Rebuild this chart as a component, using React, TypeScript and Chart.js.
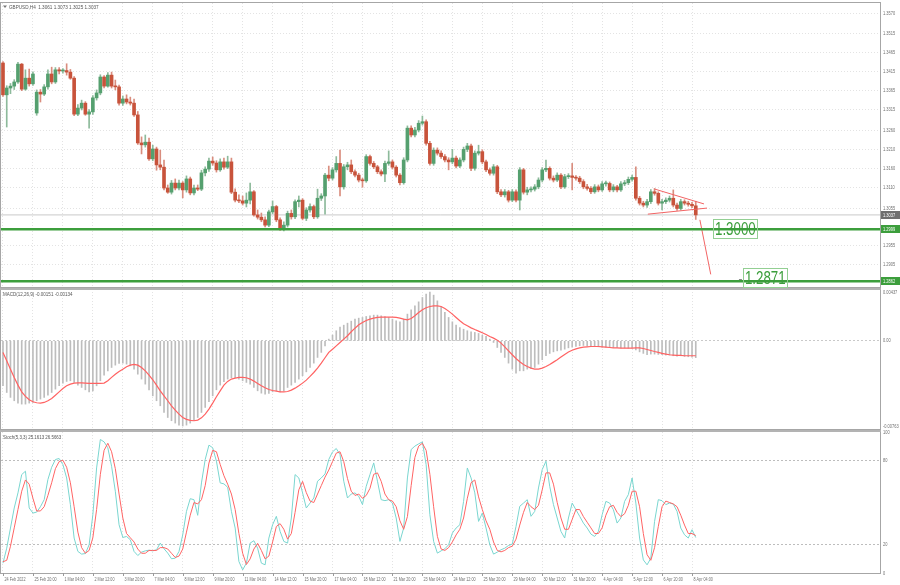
import React, { useEffect, useRef } from "react";
import { Chart, registerables } from "chart.js";
Chart.register(...registerables);

// ---------- DATA ----------
const symbolTitle = "GBPUSD,H4";

const opens = [
  1.3438,1.3354,1.3372,1.3377,1.3388,1.3435,1.3369,1.3398,1.3383,1.3306,
  1.3361,1.3356,1.3375,1.3409,1.3388,1.3420,1.3417,1.3418,1.3414,1.3398,
  1.3303,1.3319,1.3332,1.3303,1.3309,1.3346,1.3359,1.3401,1.3377,1.3406,
  1.3377,1.3375,1.3332,1.3343,1.3335,1.3332,1.3301,1.3227,1.3222,1.3229,
  1.3185,1.3211,1.3169,1.3163,1.3108,1.3097,1.3121,1.3108,1.3121,1.3103,
  1.3132,1.3095,1.3108,1.3105,1.3148,1.3158,1.3179,1.3174,1.3156,1.3177,
  1.3163,1.3177,1.3097,1.3076,1.3074,1.3068,1.3076,1.3098,1.3037,1.3031,
  1.3024,1.3010,1.3045,1.3059,1.3024,1.2999,1.3010,1.3041,1.3032,1.3072,
  1.3076,1.3028,1.3050,1.3059,1.3032,1.3081,1.3087,1.3142,1.3134,1.3156,
  1.3173,1.3111,1.3164,1.3169,1.3151,1.3142,1.3129,1.3127,1.3191,1.3173,
  1.3164,1.3151,1.3145,1.3173,1.3177,1.3163,1.3142,1.3122,1.3182,1.3266,
  1.3248,1.3261,1.3279,1.3283,1.3226,1.3173,1.3208,1.3200,1.3191,1.3182,
  1.3177,1.3187,1.3166,1.3182,1.3210,1.3219,1.3160,1.3200,1.3204,1.3177,
  1.3156,1.3147,1.3164,1.3098,1.3090,1.3098,1.3076,1.3098,1.3076,1.3156,
  1.3097,1.3103,1.3105,1.3111,1.3129,1.3156,1.3160,1.3134,1.3129,1.3142,
  1.3111,1.3138,1.3140,1.3136,1.3134,1.3125,1.3111,1.3107,1.3098,1.3111,
  1.3103,1.3119,1.3120,1.3103,1.3111,1.3103,1.3119,1.3122,1.3131,1.3136,
  1.3081,1.3068,1.3063,1.3072,1.3098,1.3094,1.3068,1.3072,1.3076,1.3081,
  1.3063,1.3054,1.3072,1.3068,1.3065,1.3061,
];
const highs = [
  1.3442,1.3378,1.3384,1.3394,1.3440,1.3437,1.3420,1.3422,1.3415,1.3367,
  1.3368,1.3381,1.3420,1.3427,1.3426,1.3426,1.3423,1.3436,1.3421,1.3402,
  1.3328,1.3340,1.3336,1.3315,1.3352,1.3367,1.3407,1.3405,1.3413,1.3414,
  1.3393,1.3380,1.3351,1.3354,1.3348,1.3343,1.3310,1.3243,1.3248,1.3240,
  1.3221,1.3216,1.3208,1.3182,1.3116,1.3128,1.3132,1.3129,1.3125,1.3140,
  1.3137,1.3116,1.3116,1.3155,1.3164,1.3187,1.3190,1.3180,1.3185,1.3187,
  1.3192,1.3187,1.3106,1.3090,1.3087,1.3095,1.3121,1.3101,1.3050,1.3042,
  1.3032,1.3050,1.3074,1.3062,1.3029,1.3019,1.3047,1.3050,1.3077,1.3087,
  1.3080,1.3056,1.3066,1.3063,1.3105,1.3093,1.3147,1.3166,1.3162,1.3191,
  1.3208,1.3170,1.3176,1.3182,1.3156,1.3147,1.3134,1.3196,1.3195,1.3178,
  1.3168,1.3156,1.3179,1.3206,1.3182,1.3167,1.3146,1.3188,1.3272,1.3272,
  1.3268,1.3286,1.3298,1.3288,1.3231,1.3214,1.3214,1.3206,1.3196,1.3188,
  1.3210,1.3192,1.3188,1.3216,1.3226,1.3224,1.3206,1.3221,1.3209,1.3182,
  1.3161,1.3170,1.3168,1.3104,1.3104,1.3102,1.3104,1.3103,1.3162,1.3160,
  1.3110,1.3111,1.3117,1.3135,1.3162,1.3182,1.3164,1.3140,1.3148,1.3146,
  1.3144,1.3146,1.3173,1.3141,1.3139,1.3130,1.3118,1.3112,1.3117,1.3116,
  1.3125,1.3126,1.3124,1.3117,1.3115,1.3125,1.3128,1.3137,1.3142,1.3164,
  1.3086,1.3073,1.3078,1.3104,1.3107,1.3098,1.3078,1.3082,1.3087,1.3103,
  1.3068,1.3078,1.3077,1.3073,1.3070,1.3073,
];
const lows = [
  1.3350,1.3269,1.3357,1.3368,1.3384,1.3365,1.3366,1.3377,1.3379,1.3300,
  1.3335,1.3352,1.3369,1.3383,1.3384,1.3409,1.3411,1.3406,1.3395,1.3299,
  1.3299,1.3314,1.3300,1.3266,1.3302,1.3340,1.3354,1.3372,1.3374,1.3372,
  1.3367,1.3327,1.3326,1.3330,1.3327,1.3297,1.3223,1.3198,1.3216,1.3181,
  1.3180,1.3155,1.3156,1.3103,1.3094,1.3092,1.3103,1.3103,1.3082,1.3097,
  1.3090,1.3090,1.3101,1.3101,1.3140,1.3152,1.3168,1.3150,1.3152,1.3158,
  1.3159,1.3093,1.3071,1.3069,1.3063,1.3058,1.3066,1.3034,1.3026,1.3019,
  1.3005,1.3006,1.3040,1.3019,1.2996,1.2995,1.3005,1.3026,1.3027,1.3058,
  1.3024,1.3022,1.3044,1.3027,1.3028,1.3075,1.3039,1.3127,1.3129,1.3150,
  1.3087,1.3105,1.3156,1.3146,1.3137,1.3124,1.3110,1.3123,1.3168,1.3159,
  1.3146,1.3140,1.3125,1.3168,1.3158,1.3137,1.3116,1.3118,1.3177,1.3243,
  1.3243,1.3256,1.3274,1.3221,1.3168,1.3168,1.3195,1.3186,1.3177,1.3156,
  1.3172,1.3161,1.3162,1.3177,1.3204,1.3154,1.3155,1.3195,1.3172,1.3151,
  1.3142,1.3142,1.3093,1.3085,1.3084,1.3071,1.3072,1.3071,1.3050,1.3092,
  1.3090,1.3098,1.3100,1.3106,1.3124,1.3151,1.3129,1.3124,1.3125,1.3106,
  1.3107,1.3133,1.3103,1.3129,1.3120,1.3106,1.3102,1.3093,1.3094,1.3098,
  1.3099,1.3113,1.3098,1.3098,1.3098,1.3099,1.3114,1.3117,1.3126,1.3076,
  1.3063,1.3058,1.3057,1.3067,1.3089,1.3063,1.3050,1.3067,1.3071,1.3058,
  1.3049,1.3050,1.3063,1.3060,1.3056,1.3025,
];
const closes = [
  1.3354,1.3372,1.3377,1.3388,1.3435,1.3369,1.3398,1.3383,1.3409,1.3361,
  1.3356,1.3375,1.3409,1.3388,1.3420,1.3417,1.3418,1.3414,1.3398,1.3303,
  1.3319,1.3332,1.3303,1.3309,1.3346,1.3359,1.3401,1.3377,1.3406,1.3377,
  1.3375,1.3332,1.3343,1.3335,1.3332,1.3301,1.3227,1.3222,1.3229,1.3185,
  1.3211,1.3169,1.3163,1.3108,1.3097,1.3121,1.3108,1.3121,1.3103,1.3132,
  1.3095,1.3108,1.3105,1.3148,1.3158,1.3179,1.3174,1.3156,1.3177,1.3163,
  1.3177,1.3097,1.3076,1.3074,1.3068,1.3076,1.3098,1.3037,1.3031,1.3024,
  1.3010,1.3045,1.3059,1.3024,1.2999,1.3010,1.3041,1.3032,1.3072,1.3076,
  1.3028,1.3050,1.3059,1.3032,1.3081,1.3087,1.3142,1.3134,1.3156,1.3173,
  1.3111,1.3164,1.3169,1.3151,1.3142,1.3129,1.3127,1.3191,1.3173,1.3164,
  1.3151,1.3145,1.3173,1.3177,1.3163,1.3142,1.3122,1.3182,1.3266,1.3248,
  1.3261,1.3279,1.3283,1.3226,1.3173,1.3208,1.3200,1.3191,1.3182,1.3177,
  1.3187,1.3166,1.3182,1.3210,1.3219,1.3160,1.3200,1.3204,1.3177,1.3156,
  1.3147,1.3164,1.3098,1.3090,1.3098,1.3076,1.3098,1.3076,1.3156,1.3097,
  1.3103,1.3105,1.3111,1.3129,1.3156,1.3160,1.3134,1.3129,1.3142,1.3111,
  1.3138,1.3140,1.3136,1.3134,1.3125,1.3111,1.3107,1.3098,1.3111,1.3103,
  1.3119,1.3120,1.3103,1.3111,1.3103,1.3119,1.3122,1.3131,1.3136,1.3081,
  1.3068,1.3063,1.3072,1.3098,1.3094,1.3068,1.3072,1.3076,1.3081,1.3063,
  1.3054,1.3072,1.3068,1.3065,1.3061,1.3037,
];

const macdMain = [
  -0.00403,-0.00463,-0.00507,-0.00537,-0.00558,-0.00567,-0.00567,-0.00558,-0.00552,-0.00537,
  -0.00522,-0.00507,-0.00487,-0.00463,-0.00433,-0.00403,-0.00379,-0.00364,-0.00358,-0.00373,
  -0.00397,-0.00418,-0.00439,-0.00457,-0.00448,-0.00403,-0.00358,-0.00307,-0.00269,-0.00239,
  -0.00218,-0.00203,-0.00200,-0.00209,-0.00224,-0.00254,-0.00299,-0.00343,-0.00388,-0.00439,
  -0.00493,-0.00537,-0.00582,-0.00642,-0.00687,-0.00716,-0.00737,-0.00755,-0.00763,-0.00755,
  -0.00737,-0.00716,-0.00687,-0.00642,-0.00597,-0.00546,-0.00493,-0.00439,-0.00397,-0.00367,
  -0.00343,-0.00331,-0.00331,-0.00343,-0.00358,-0.00373,-0.00388,-0.00418,-0.00448,-0.00469,
  -0.00478,-0.00472,-0.00457,-0.00448,-0.00457,-0.00448,-0.00418,-0.00397,-0.00373,-0.00343,
  -0.00313,-0.00278,-0.00239,-0.00200,-0.00149,-0.00104,-0.00045,0.00015,0.00051,0.00090,
  0.00122,0.00140,0.00158,0.00176,0.00194,0.00203,0.00209,0.00218,0.00224,0.00230,
  0.00230,0.00224,0.00218,0.00209,0.00194,0.00179,0.00170,0.00194,0.00239,0.00278,
  0.00313,0.00349,0.00388,0.00418,0.00437,0.00409,0.00358,0.00307,0.00254,0.00209,
  0.00170,0.00140,0.00119,0.00104,0.00090,0.00081,0.00075,0.00066,0.00051,0.00039,
  0.00015,-0.00015,-0.00060,-0.00104,-0.00149,-0.00200,-0.00254,-0.00290,-0.00269,-0.00269,
  -0.00254,-0.00248,-0.00239,-0.00209,-0.00170,-0.00134,-0.00113,-0.00099,-0.00090,-0.00084,
  -0.00075,-0.00063,-0.00057,-0.00051,-0.00045,-0.00042,-0.00045,-0.00048,-0.00051,-0.00054,
  -0.00057,-0.00057,-0.00060,-0.00060,-0.00060,-0.00063,-0.00063,-0.00066,-0.00066,-0.00081,
  -0.00099,-0.00113,-0.00125,-0.00119,-0.00119,-0.00122,-0.00125,-0.00128,-0.00128,-0.00134,
  -0.00137,-0.00134,-0.00140,-0.00143,-0.00146,-0.00151,
];
const macdSignal = [
  -0.00104,-0.00179,-0.00254,-0.00328,-0.00397,-0.00457,-0.00498,-0.00528,-0.00546,-0.00555,
  -0.00558,-0.00552,-0.00537,-0.00516,-0.00487,-0.00457,-0.00427,-0.00403,-0.00388,-0.00379,
  -0.00376,-0.00376,-0.00379,-0.00382,-0.00382,-0.00382,-0.00382,-0.00379,-0.00358,-0.00328,
  -0.00299,-0.00275,-0.00254,-0.00233,-0.00218,-0.00212,-0.00218,-0.00239,-0.00269,-0.00307,
  -0.00349,-0.00397,-0.00448,-0.00493,-0.00537,-0.00582,-0.00621,-0.00657,-0.00687,-0.00704,
  -0.00713,-0.00716,-0.00710,-0.00690,-0.00657,-0.00612,-0.00558,-0.00501,-0.00448,-0.00397,
  -0.00364,-0.00343,-0.00334,-0.00328,-0.00328,-0.00331,-0.00343,-0.00361,-0.00382,-0.00403,
  -0.00421,-0.00436,-0.00445,-0.00451,-0.00457,-0.00457,-0.00454,-0.00442,-0.00424,-0.00403,
  -0.00379,-0.00352,-0.00319,-0.00284,-0.00245,-0.00200,-0.00152,-0.00104,-0.00075,-0.00045,
  -0.00015,0.00015,0.00045,0.00081,0.00113,0.00143,0.00164,0.00182,0.00194,0.00203,
  0.00209,0.00212,0.00212,0.00212,0.00212,0.00209,0.00203,0.00194,0.00188,0.00200,
  0.00224,0.00254,0.00278,0.00296,0.00307,0.00313,0.00313,0.00307,0.00290,0.00266,
  0.00239,0.00209,0.00179,0.00152,0.00134,0.00116,0.00101,0.00087,0.00072,0.00057,
  0.00039,0.00024,0.00006,-0.00021,-0.00054,-0.00090,-0.00125,-0.00158,-0.00188,-0.00212,
  -0.00230,-0.00245,-0.00254,-0.00254,-0.00245,-0.00230,-0.00212,-0.00191,-0.00170,-0.00146,
  -0.00122,-0.00101,-0.00084,-0.00072,-0.00063,-0.00057,-0.00054,-0.00051,-0.00051,-0.00051,
  -0.00054,-0.00057,-0.00060,-0.00063,-0.00063,-0.00066,-0.00066,-0.00066,-0.00066,-0.00063,
  -0.00063,-0.00069,-0.00078,-0.00087,-0.00096,-0.00104,-0.00113,-0.00119,-0.00125,-0.00128,
  -0.00131,-0.00131,-0.00134,-0.00134,-0.00134,-0.00134,
];

const stochK = [
  7.0,17.6,31.9,46.1,56.8,69.8,72.2,46.1,42.5,43.2,
  47.0,52.0,66.3,75.0,80.5,81.2,76.9,67.4,48.5,24.8,
  15.3,13.4,13.8,20.0,41.3,74.5,94.7,93.0,88.8,75.7,
  58.0,34.2,25.2,25.9,23.6,15.3,12.4,14.8,15.7,16.2,
  15.7,16.5,21.2,17.2,14.1,10.1,10.5,15.3,27.1,43.7,
  52.7,52.0,40.9,63.9,80.5,90.7,88.8,79.3,63.9,63.2,
  60.8,43.7,31.9,8.2,2.2,7.0,21.2,22.9,17.6,7.0,
  5.8,24.8,34.2,40.2,29.5,22.4,21.2,39.0,69.8,67.4,
  56.8,46.1,49.6,53.2,65.1,67.4,70.3,80.5,85.9,88.3,
  84.0,65.1,53.2,56.0,56.8,54.4,48.5,61.5,69.8,78.1,
  65.1,52.0,51.3,52.0,49.6,39.0,22.4,31.9,67.4,87.6,
  90.0,91.6,93.0,76.9,41.3,22.4,14.1,15.7,17.2,20.0,
  28.3,31.9,34.2,50.8,74.5,67.4,56.8,36.6,42.5,31.9,
  20.0,13.4,14.8,16.5,17.6,19.5,20.5,33.0,47.3,49.6,
  52.0,40.2,43.7,60.3,73.4,79.3,61.5,48.5,39.0,29.5,
  24.8,39.0,49.6,44.9,40.2,35.4,31.9,27.6,25.9,29.5,
  41.3,50.8,49.6,44.9,35.4,39.0,50.8,55.6,67.4,49.6,
  24.8,9.3,5.8,10.5,36.6,52.0,51.3,48.5,49.6,48.9,
  43.7,31.9,27.1,24.8,30.7,25.1613,
];
const stochD = [
  8,9,19,32,45,58,66,63,53,44,
  44,47,55,64,74,79,80,75,64,47,
  29,18,14,16,25,45,70,87,92,86,
  74,56,39,28,25,22,17,14,14,16,
  16,16,18,18,17,14,11,12,17,29,
  41,50,49,52,62,78,87,86,77,69,
  63,56,45,28,14,6,10,17,21,16,
  10,12,22,33,35,31,24,28,43,59,
  65,57,51,50,56,62,68,73,79,85,
  86,79,67,58,55,56,53,55,60,70,
  71,65,56,52,51,47,37,31,40,62,
  82,90,92,87,70,47,26,17,16,18,
  22,27,31,39,53,64,66,54,45,37,
  31,22,16,15,16,18,19,24,34,43,
  50,47,45,48,59,71,71,63,50,39,
  31,31,38,45,45,40,36,32,28,28,
  32,41,47,48,43,40,42,48,58,58,
  47,28,13,9,18,33,47,51,50,49,
  47,41,34,28,28,26.5663,
];

const xTickLabels = [
  "24 Feb 2022","25 Feb 20:00","1 Mar 04:00","2 Mar 12:00","3 Mar 20:00","7 Mar 04:00",
  "8 Mar 12:00","9 Mar 20:00","11 Mar 04:00","14 Mar 12:00","15 Mar 20:00","17 Mar 04:00",
  "18 Mar 12:00","21 Mar 20:00","23 Mar 04:00","24 Mar 12:00","25 Mar 20:00","29 Mar 04:00",
  "30 Mar 12:00","31 Mar 20:00","4 Apr 04:00","5 Apr 12:00","6 Apr 20:00","8 Apr 04:00",
];
const barsPerXTick = 8;

const priceTicks = [1.3570,1.3515,1.3465,1.3415,1.3365,1.3315,1.3260,1.3210,1.3160,1.3110,1.3055,1.2955,1.2905];
const macdTicks = [0.00437, 0, -0.00763];
const stochTicks = [100, 80, 20, 0];
const stochLevels = [80, 20];

// horizontal support levels (line value) and their text labels
const levelValues = [1.2999, 1.2862];
const levelTexts = ["1.3000", "1.2871"];
const levelTextPrices = [1.3000, 1.2871];
const levelTextBars = [189.6, 197.6];

// triangle + projection (bar index, price)
const triUpperBars = [174.1, 187.2];
const triUpperPrices = [1.3105, 1.3066];
const triLowerBars = [172.2, 188.0];
const triLowerPrices = [1.3039, 1.3055];
const projBars = [186.1, 189.0];
const projPrices = [1.3024, 1.2880];

// right-axis price markers
const axisMarkValues = [1.3037, 1.2999, 1.2862];
const axisMarkColors = ["#6f6f6f", "#3c9e3c", "#3c9e3c"];

// ---------- STYLE ----------
const FONT = "'Liberation Sans', Arial, sans-serif";
const AXIS_TEXT = "#707070";
const GRID = "#e3e3e3";
const FRAME = "#a6a6a6";
const BULL = "#55a06f";
const BEAR = "#c8533b";
const BULL_WICK = "#8dba9b";
const BEAR_WICK = "#d98d7e";
const LEVEL = "#3c9e3c";
const LEVEL_BOX = "#93cf93";
const TREND = "#f26464";
const X_MIN = -0.53;
const X_MAX = 234.2;
const PRICE_MIN = 1.28467;
const PRICE_MAX = 1.35964;
const MACD_MIN = -0.0079;
const MACD_MAX = 0.00464;
const AXIS_SX = 0.72;

function fillText(ctx: any, text: string, x: number, y: number, size: number, sx: number, color: string) {
  ctx.save();
  ctx.font = `${size}px ${FONT}`;
  ctx.fillStyle = color;
  ctx.textBaseline = "middle";
  ctx.textAlign = "left";
  ctx.translate(x, y);
  ctx.scale(sx, 1);
  ctx.fillText(text, 0, 0);
  ctx.restore();
}

function xScale(showLabels: boolean): any {
  return {
    type: "linear",
    position: "bottom",
    min: X_MIN,
    max: X_MAX,
    offset: false,
    grid: { color: GRID, offset: false, drawTicks: false, lineWidth: 1 },
    border: { display: false, dash: [1, 2] },
    ticks: { display: false },
    afterBuildTicks: (s: any) => {
      s.ticks = xTickLabels.map((_, k) => ({ value: k * barsPerXTick }));
    },
    afterFit: (s: any) => {
      s.height = showLabels ? 12 : 0;
      s.paddingLeft = 0;
      s.paddingRight = 0;
    },
  };
}

function yScale(min: number, max: number, ticks: number[], gridColor: any, dash: number[]): any {
  return {
    type: "linear",
    position: "right",
    min,
    max,
    grid: { color: gridColor, drawTicks: false, lineWidth: 1 },
    border: { display: false, dash },
    ticks: { display: false },
    afterBuildTicks: (s: any) => {
      s.ticks = ticks.map((v) => ({ value: v }));
    },
    afterFit: (s: any) => {
      s.width = 20;
      s.paddingTop = 0;
      s.paddingBottom = 0;
    },
  };
}

function drawYLabels(chart: any, ticks: number[], fmt: (v: number) => string) {
  const { chartArea: ca, scales } = chart;
  ticks.forEach((v) => {
    const py = scales.y.getPixelForValue(v);
    fillText(chart.ctx, fmt(v), ca.right + 3, py, 5.5, AXIS_SX, AXIS_TEXT);
  });
}

function drawFrame(chart: any, band: boolean) {
  const { ctx, chartArea: ca } = chart;
  ctx.save();
  ctx.strokeStyle = FRAME;
  ctx.lineWidth = 1;
  ctx.strokeRect(ca.left - 0.5, ca.top - 0.5, ca.right - ca.left + 1, ca.bottom - ca.top + 1);
  if (band) {
    ctx.fillStyle = "#b3b3b3";
    ctx.fillRect(0, 0, ca.right + 1, 2);
  }
  ctx.restore();
}

const commonOpts = {
  animation: false,
  responsive: false,
  maintainAspectRatio: false,
  events: [] as any[],
  plugins: { legend: { display: false }, tooltip: { enabled: false } },
};

function mainConfig(): any {
  const last = closes.length - 1;
  const bull = closes.map((c, i) => c >= opens[i]);
  const bodies = closes.map((c, i) => ({ x: i, y: [Math.min(opens[i], c), Math.max(opens[i], c)] }));
  const wicks = closes.map((_c, i) => ({ x: i, y: [lows[i], highs[i]] }));
  const span = (v: number) => [{ x: X_MIN, y: v }, { x: X_MAX, y: v }];
  const seg = (bars: number[], prices: number[]) => bars.map((b, k) => ({ x: b, y: prices[k] }));
  const lineBase = { type: "line", pointRadius: 0, tension: 0, fill: false };

  const decor = {
    id: "mainDecor",
    afterDraw(chart: any) {
      const { ctx, chartArea: ca, scales } = chart;
      const xs = scales.x;
      const ys = scales.y;
      drawFrame(chart, false);
      drawYLabels(chart, priceTicks, (v) => v.toFixed(4));
      ctx.save();
      ctx.fillStyle = "#777777";
      ctx.beginPath();
      ctx.moveTo(3, 5.5);
      ctx.lineTo(7, 5.5);
      ctx.lineTo(5, 8);
      ctx.closePath();
      ctx.fill();
      ctx.restore();
      const title = `${symbolTitle}  ${opens[last].toFixed(4)} ${highs[last].toFixed(4)} ${lows[last].toFixed(4)} ${closes[last].toFixed(4)}`;
      fillText(ctx, title, 9, 7, 5.5, 0.84, "#555555");
      // level text boxes
      ctx.save();
      levelTexts.forEach((t, k) => {
        const px = xs.getPixelForValue(levelTextBars[k]);
        const py = ys.getPixelForValue(levelTextPrices[k]);
        ctx.font = `18px ${FONT}`;
        const w = ctx.measureText(t).width * 0.74;
        ctx.strokeStyle = LEVEL_BOX;
        ctx.lineWidth = 1;
        ctx.strokeRect(Math.round(px) + 0.5, Math.round(py - 9.5) + 0.5, Math.round(w + 3), 19);
        fillText(ctx, t, px + 2, py + 1, 18, 0.74, LEVEL);
        if (k === 1) {
          ctx.strokeStyle = "#888888";
          ctx.beginPath();
          ctx.moveTo(px - 4, Math.round(py) + 1.5);
          ctx.lineTo(px - 1, Math.round(py) + 1.5);
          ctx.stroke();
        }
      });
      // right-axis markers
      axisMarkValues.forEach((v, k) => {
        const py = Math.round(ys.getPixelForValue(v));
        ctx.fillStyle = axisMarkColors[k];
        ctx.fillRect(ca.right + 1, py - 4, 20, 8);
        fillText(ctx, v.toFixed(4), ca.right + 3, py, 5.5, AXIS_SX, "#ffffff");
      });
      ctx.restore();
    },
  };

  return {
    type: "bar",
    data: {
      datasets: [
        { ...lineBase, data: span(levelValues[0]), borderColor: LEVEL, borderWidth: 2.6, order: 0 },
        { ...lineBase, data: span(levelValues[1]), borderColor: LEVEL, borderWidth: 2.6, order: 0 },
        { ...lineBase, data: seg(triUpperBars, triUpperPrices), borderColor: TREND, borderWidth: 1, order: 0 },
        { ...lineBase, data: seg(triLowerBars, triLowerPrices), borderColor: TREND, borderWidth: 1, order: 0 },
        { ...lineBase, data: seg(projBars, projPrices), borderColor: TREND, borderWidth: 1, order: 0 },
        {
          type: "bar",
          data: bodies,
          backgroundColor: bull.map((b) => (b ? BULL : BEAR)),
          borderWidth: 0,
          barThickness: 3,
          minBarLength: 1,
          grouped: false,
          order: 1,
        },
        {
          type: "bar",
          data: wicks,
          backgroundColor: bull.map((b) => (b ? BULL_WICK : BEAR_WICK)),
          borderWidth: 0,
          barThickness: 1,
          grouped: false,
          order: 2,
        },
        { ...lineBase, data: span(closes[last]), borderColor: "#c9c9c9", borderWidth: 1, order: 3 },
      ],
    },
    options: {
      ...commonOpts,
      layout: { padding: { left: 1, right: 0, top: 3, bottom: 1 } },
      scales: {
        x: xScale(false),
        y: yScale(PRICE_MIN, PRICE_MAX, priceTicks, GRID, [1, 2]),
      },
    },
    plugins: [decor],
  };
}

function macdConfig(): any {
  const last = macdMain.length - 1;
  const decor = {
    id: "macdDecor",
    afterDraw(chart: any) {
      drawFrame(chart, true);
      drawYLabels(chart, macdTicks, (v) => (v === 0 ? "0.00" : v.toFixed(5)));
      fillText(chart.ctx, `MACD(12,26,9) ${macdMain[last].toFixed(5)} ${macdSignal[last].toFixed(5)}`, 3, 6, 5.5, 0.82, "#555555");
    },
  };
  return {
    type: "bar",
    data: {
      datasets: [
        {
          type: "line",
          data: macdSignal.map((v, i) => ({ x: i, y: v })),
          borderColor: "#ff6262",
          borderWidth: 1.2,
          pointRadius: 0,
          tension: 0,
          fill: false,
          order: 0,
        },
        {
          type: "bar",
          data: macdMain.map((v, i) => ({ x: i, y: v })),
          backgroundColor: "#bdbdbd",
          borderWidth: 0,
          barThickness: 1,
          grouped: false,
          order: 1,
        },
      ],
    },
    options: {
      ...commonOpts,
      layout: { padding: { left: 1, right: 0, top: 1, bottom: 1 } },
      scales: {
        x: xScale(false),
        y: yScale(
          MACD_MIN,
          MACD_MAX,
          macdTicks,
          (c: any) => (c.tick && c.tick.value === 0 ? "#c9c9c9" : "rgba(0,0,0,0)"),
          [2, 2]
        ),
      },
    },
    plugins: [decor],
  };
}

function stochConfig(): any {
  const last = stochK.length - 1;
  const decor = {
    id: "stochDecor",
    afterDraw(chart: any) {
      const { ctx, chartArea: ca, scales } = chart;
      drawFrame(chart, true);
      drawYLabels(chart, stochTicks, (v) => String(v));
      fillText(ctx, `Stoch(5,3,3) ${stochK[last].toFixed(4)} ${stochD[last].toFixed(4)}`, 3, 7, 5.5, 0.8, "#555555");
      // x-axis ticks and labels
      ctx.save();
      ctx.strokeStyle = "#9a9a9a";
      ctx.lineWidth = 1;
      xTickLabels.forEach((lab, k) => {
        const px = Math.round(scales.x.getPixelForValue(k * barsPerXTick)) + 0.5;
        ctx.beginPath();
        ctx.moveTo(px, ca.bottom);
        ctx.lineTo(px, ca.bottom + 3);
        ctx.stroke();
        fillText(ctx, lab, px + 1, ca.bottom + 6, 5.5, 0.68, AXIS_TEXT);
      });
      ctx.restore();
    },
  };
  return {
    type: "line",
    data: {
      datasets: [
        {
          data: stochD.map((v, i) => ({ x: i, y: v })),
          borderColor: "#ff6464",
          borderWidth: 1,
          pointRadius: 0,
          tension: 0,
          fill: false,
          order: 0,
        },
        {
          data: stochK.map((v, i) => ({ x: i, y: v })),
          borderColor: "#7ad6d0",
          borderWidth: 1,
          pointRadius: 0,
          tension: 0,
          fill: false,
          order: 1,
        },
      ],
    },
    options: {
      ...commonOpts,
      layout: { padding: { left: 1, right: 0, top: 2, bottom: 0 } },
      scales: {
        x: xScale(true),
        y: yScale(
          0,
          100,
          stochTicks,
          (c: any) => (c.tick && stochLevels.includes(c.tick.value) ? "#bdbdbd" : "rgba(0,0,0,0)"),
          [2, 2]
        ),
      },
    },
    plugins: [decor],
  };
}

function Panel({ top, height, make }: { top: number; height: number; make: () => any }) {
  const ref = useRef<HTMLCanvasElement | null>(null);
  useEffect(() => {
    if (!ref.current) return;
    const chart = new Chart(ref.current, make());
    return () => chart.destroy();
  }, []);
  return (
    <canvas
      ref={ref}
      width={900}
      height={height}
      style={{ position: "absolute", left: 0, top, width: 900, height, display: "block" }}
    />
  );
}

export default function App() {
  return (
    <div
      style={{
        position: "fixed",
        left: 0,
        top: 0,
        width: 900,
        height: 585,
        background: "#ffffff",
        overflow: "hidden",
      }}
    >
      <Panel top={0} height={288} make={mainConfig} />
      <Panel top={288} height={142} make={macdConfig} />
      <Panel top={430} height={155} make={stochConfig} />
    </div>
  );
}
